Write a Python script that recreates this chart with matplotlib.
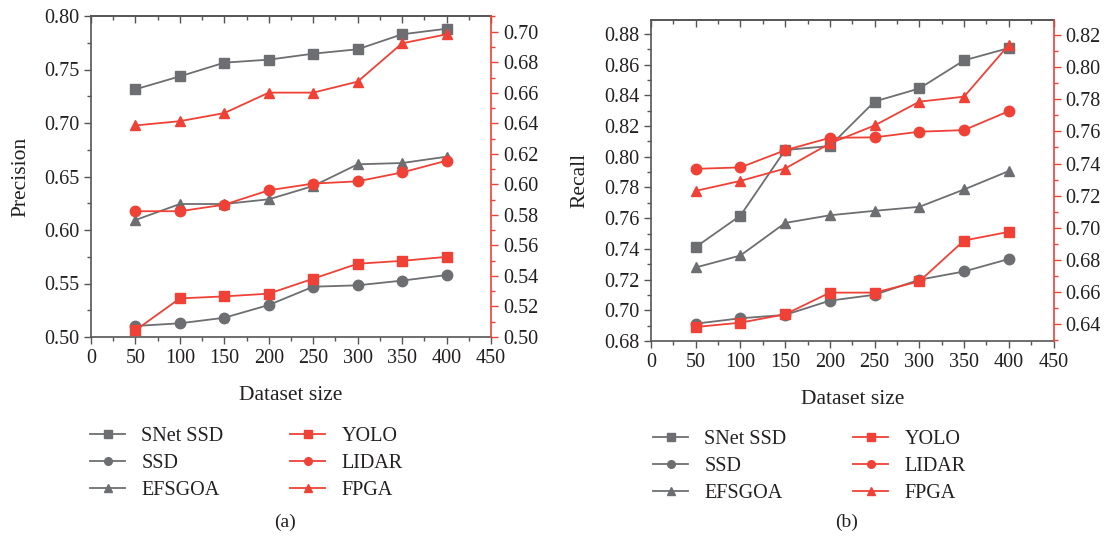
import matplotlib
matplotlib.use("Agg")
import matplotlib.pyplot as plt
from matplotlib.ticker import MultipleLocator, FormatStrFormatter
from matplotlib.lines import Line2D

plt.rcParams['font.family'] = ['Liberation Serif', 'DejaVu Serif']

sizes = [50, 100, 150, 200, 250, 300, 350, 400]

# (a) Precision
a_snet = [0.7315, 0.7436, 0.7564, 0.7592, 0.7648, 0.7689, 0.7829, 0.7881]
a_ssd = [0.5103, 0.5128, 0.5180, 0.5299, 0.5470, 0.5483, 0.5527, 0.5579]
a_efsgoa = [0.6093, 0.6243, 0.6243, 0.6287, 0.6411, 0.6614, 0.6626, 0.6685]
a_yolo = [0.5044, 0.5253, 0.5266, 0.5284, 0.5382, 0.5480, 0.5499, 0.5525]
a_lidar = [0.5824, 0.5824, 0.5867, 0.5961, 0.6005, 0.6020, 0.6078, 0.6155]
a_fpga = [0.6386, 0.6414, 0.6467, 0.6601, 0.6601, 0.6673, 0.6924, 0.6983]

# (b) Recall
b_snet = [0.7412, 0.7617, 0.8044, 0.8070, 0.8360, 0.8445, 0.8628, 0.8708]
b_ssd = [0.6913, 0.6948, 0.6970, 0.7063, 0.7101, 0.7199, 0.7253, 0.7334]
b_efsgoa = [0.7279, 0.7357, 0.7569, 0.7619, 0.7648, 0.7674, 0.7787, 0.7907]
b_yolo = [0.6383, 0.6410, 0.6462, 0.6597, 0.6597, 0.6667, 0.6921, 0.6975]
b_lidar = [0.7367, 0.7376, 0.7483, 0.7560, 0.7563, 0.7598, 0.7608, 0.7726]
b_fpga = [0.7230, 0.7292, 0.7369, 0.7525, 0.7637, 0.7785, 0.7816, 0.8138]

gray_names = ["SNet SSD", "SSD", "EFSGOA"]
red_names = ["YOLO", "LIDAR", "FPGA"]
markers = ["s", "o", "^"]

GRAY = "#6d6e71"
RED = "#ef4136"
SPINE = "#555555"
TXT = "#231f20"

W, H = 1111, 543
fig = plt.figure(figsize=(W / 100, H / 100), dpi=100)


def make_panel(rect, gray_data, red_data, ylim1, ylim2, major1, minor1, fmt1,
               ylabel, caption_x, caption, legend_x, legend_y):
    ax = fig.add_axes(rect)
    ax2 = ax.twinx()
    for d, m in zip(gray_data, markers):
        ax.plot(sizes, d, color=GRAY, marker=m, ms=7 if m != "o" else 7.5,
                lw=1.3, zorder=3)
    for d, m in zip(red_data, markers):
        ax2.plot(sizes, d, color=RED, marker=m, ms=7 if m != "o" else 7.5,
                 lw=1.3, zorder=3)
    ax.set_xlim(0, 450)
    ax.set_ylim(*ylim1)
    ax2.set_ylim(*ylim2)
    ax.xaxis.set_major_locator(MultipleLocator(50))
    ax.xaxis.set_minor_locator(MultipleLocator(25))
    ax.yaxis.set_major_locator(MultipleLocator(major1))
    ax.yaxis.set_minor_locator(MultipleLocator(minor1))
    ax.yaxis.set_major_formatter(FormatStrFormatter(fmt1))
    ax2.yaxis.set_major_locator(MultipleLocator(0.02))
    ax2.yaxis.set_minor_locator(MultipleLocator(0.01))
    ax2.yaxis.set_major_formatter(FormatStrFormatter("%.2f"))

    for s in ["left", "bottom", "top"]:
        ax.spines[s].set_color(SPINE)
        ax.spines[s].set_linewidth(1.2)
    ax.spines["right"].set_visible(False)
    for s in ["left", "bottom", "top"]:
        ax2.spines[s].set_visible(False)
    ax2.spines["right"].set_color(RED)
    ax2.spines["right"].set_linewidth(1.2)

    ax.tick_params(axis="both", which="major", length=5, width=1, color=SPINE,
                   labelsize=14.5, labelcolor=TXT, direction="out")
    ax.tick_params(axis="both", which="minor", length=3, width=1, color=SPINE,
                   direction="out")
    ax2.tick_params(axis="y", which="major", length=5, width=1, color=RED,
                    labelsize=14.5, labelcolor=TXT, direction="out")
    ax2.tick_params(axis="y", which="minor", length=3, width=1, color=RED,
                    direction="out")

    top = ax.secondary_xaxis("top")
    top.xaxis.set_major_locator(MultipleLocator(50))
    top.xaxis.set_minor_locator(MultipleLocator(25))
    top.tick_params(which="major", direction="in", length=5, width=1,
                    color=SPINE, labeltop=False)
    top.tick_params(which="minor", direction="in", length=3, width=1,
                    color=SPINE)
    top.spines["top"].set_color(SPINE)
    top.spines["top"].set_linewidth(1.2)

    ax.set_xlabel("Dataset size", fontsize=15.5, color=TXT, labelpad=13)
    ax.set_ylabel(ylabel, fontsize=15.5, color=TXT, labelpad=10)

    handles = []
    for n, m in zip(gray_names, markers):
        handles.append(Line2D([], [], color=GRAY, marker=m, ms=5.5, lw=1.3, label=n))
    for n, m in zip(red_names, markers):
        handles.append(Line2D([], [], color=RED, marker=m, ms=5.5, lw=1.3, label=n))
    fig.legend(handles=handles, ncol=2, loc="upper left",
               bbox_to_anchor=(legend_x, legend_y), frameon=False,
               fontsize=14.5, handlelength=1.75, handletextpad=0.8,
               columnspacing=3.3, labelspacing=0.4, borderpad=0,
               borderaxespad=0, labelcolor=TXT)
    fig.text(caption_x, 1 - 522 / H, caption, fontsize=14, color=TXT,
             ha="center", va="center")
    return ax, ax2


make_panel([91 / W, 1 - 337 / H, 400 / W, 321 / H],
           [a_snet, a_ssd, a_efsgoa], [a_yolo, a_lidar, a_fpga],
           (0.50, 0.80), (0.50, 0.7103), 0.05, 0.025, "%.2f",
           "Precision", 285 / W, "(a)", 90 / W, 1 - 427 / H)

make_panel([651 / W, 1 - 341 / H, 402.5 / W, 321 / H],
           [b_snet, b_ssd, b_efsgoa], [b_yolo, b_lidar, b_fpga],
           (0.68, 0.8891), (0.6296, 0.8293), 0.02, 0.01, "%.2f",
           "Recall", 847 / W, "(b)", 653 / W, 1 - 430 / H)

fig.savefig("out.png", dpi=100)
